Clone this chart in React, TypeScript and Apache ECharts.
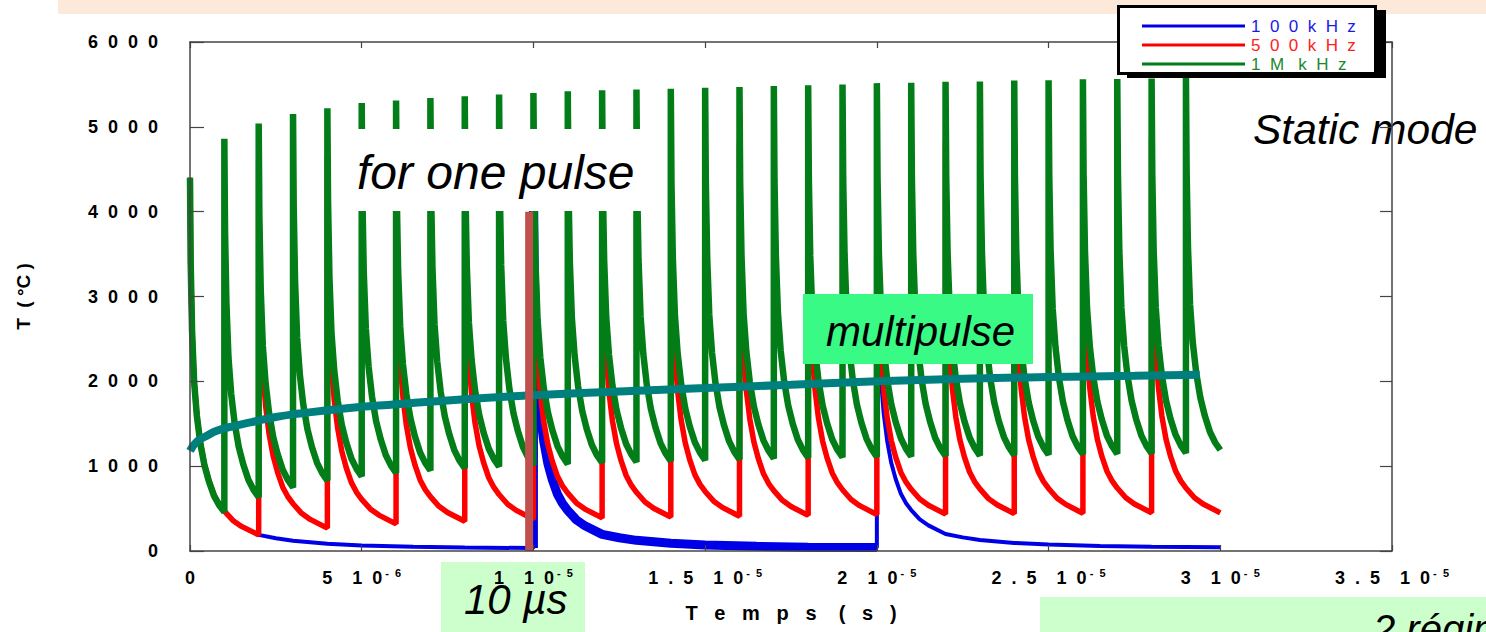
import { useEffect, useRef } from "react";
import * as echarts from "echarts";

const FONT = "'Liberation Sans', Arial, Helvetica, sans-serif";

// ---- axis tick labels ----
const X_TICK_MANTISSA = ["0", "5", "1", "1.5", "2", "2.5", "3", "3.5"];
const X_TICK_EXPONENT = ["", "-6", "-5", "-5", "-5", "-5", "-5", "-5"];
const Y_TICK_LABELS = ["0", "1000", "2000", "3000", "4000", "5000", "6000"];

// ---- series names / legend ----
const SERIES_NAMES = ["100 kHz", "500 kHz", "1M kHz"];
const LEGEND_LABELS = ["1  0  0  k  H  z", "5  0  0  k  H  z", "1  M   k  H  z"];
const SERIES_COLORS = ["#0000e6", "#ff0000", "#037d17"];
const LEGEND_TEXT_COLORS = ["#1a1ae6", "#ff2020", "#1a8a2a"];

// ---- single-pulse decay read from the first pulse (time after pulse in µs, T rise in °C) ----
const DECAY_TAU = [0, 0.02, 0.06, 0.12, 0.2, 0.3, 0.42, 0.55, 0.7, 0.85, 1.0, 1.25, 1.5, 2.0, 2.5, 3.0, 4.0, 5.0, 6.5, 8.0, 10.0];
const DECAY_DT = [4400, 3400, 2600, 2000, 1600, 1280, 1020, 830, 660, 550, 470, 360, 290, 190, 150, 120, 85, 65, 50, 40, 35];

// ---- 1 MHz (green): pulse times (µs), peak T and T just before next pulse ----
const GREEN_TIMES = [0, 1, 2, 3, 4, 5, 6, 7, 8, 9, 10, 11, 12, 13, 14, 15, 16, 17, 18, 19, 20, 21, 22, 23, 24, 25, 26, 27, 28, 29];
const GREEN_PEAKS = [4400, 4860, 5040, 5150, 5220, 5280, 5310, 5340, 5360, 5380, 5400, 5420, 5430, 5440, 5450, 5460, 5470, 5480, 5490, 5500, 5515, 5520, 5530, 5535, 5545, 5550, 5560, 5565, 5570, 5590];
const GREEN_TROUGHS = [460, 635, 750, 830, 880, 920, 950, 975, 995, 1010, 1025, 1040, 1050, 1060, 1070, 1080, 1090, 1100, 1105, 1110, 1115, 1120, 1125, 1130, 1135, 1140, 1145, 1150, 1155, 1190];

// ---- 500 kHz (red) ----
const RED_TIMES = [0, 2, 4, 6, 8, 10, 12, 14, 16, 18, 20, 22, 24, 26, 28];
const RED_PEAKS = [4400, 4590, 4670, 4720, 4750, 4775, 4790, 4800, 4810, 4820, 4830, 4835, 4840, 4845, 4850];
const RED_TROUGHS = [190, 270, 320, 350, 375, 390, 400, 410, 420, 430, 435, 440, 445, 450, 450];

// ---- 100 kHz (blue) ----
const BLUE_TIMES = [0, 10, 20];
const BLUE_PEAKS = [4400, 4435, 4440];
const BLUE_TROUGHS = [35, 40, 45];

// ---- static mode curve (teal) ----
const STATIC_T = [0, 0.2, 0.45, 0.8, 1.3, 1.8, 2.5, 3.2, 4.5, 6, 8, 10, 12.5, 15, 17.5, 20, 22.5, 25, 27.5, 29.4];
const STATIC_V = [1180, 1290, 1350, 1420, 1475, 1520, 1580, 1620, 1680, 1730, 1790, 1835, 1880, 1920, 1960, 2000, 2030, 2050, 2065, 2078];

// ---- "for one pulse" marker bar ----
const MARK_T = 9.875;
const MARK_RANGE = [0, 4000];

function pulse(t: number, peak: number, before: number | null, after: number, period: number) {
  const pts: number[][] = [];
  if (before !== null) pts.push([t, before]);
  pts.push([t, peak]);
  const iEnd = DECAY_TAU.indexOf(period);
  const dEnd = DECAY_DT[iEnd];
  for (let i = 1; i < DECAY_TAU.length; i++) {
    const tau = DECAY_TAU[i];
    if (tau >= period) break;
    const v = after + ((peak - after) * (DECAY_DT[i] - dEnd)) / (DECAY_DT[0] - dEnd);
    pts.push([t + tau, v]);
  }
  pts.push([t + period, after]);
  return pts;
}

function train(times: number[], peaks: number[], troughs: number[], period: number, only?: number[]) {
  let pts: number[][] = [];
  times.forEach((t, k) => {
    if (only && only.indexOf(k) < 0) return;
    pts = pts.concat(pulse(t, peaks[k], k > 0 ? troughs[k - 1] : null, troughs[k], period));
  });
  return pts;
}

const spread = (s: string, gap: string) => s.split("").join(gap);

export default function App() {
  const ref = useRef<HTMLDivElement>(null);
  useEffect(() => {
    if (!ref.current) return;
    const chart = echarts.init(ref.current, undefined, { renderer: "svg" });

    const blueAll = train(BLUE_TIMES, BLUE_PEAKS, BLUE_TROUGHS, 10);
    const blueMid = train(BLUE_TIMES, BLUE_PEAKS, BLUE_TROUGHS, 10, [1]);
    const red = train(RED_TIMES, RED_PEAKS, RED_TROUGHS, 2);
    const green = train(GREEN_TIMES, GREEN_PEAKS, GREEN_TROUGHS, 1);
    const teal = STATIC_T.map((t, i) => [t, STATIC_V[i]]);
    const bar = MARK_RANGE.map((v) => [MARK_T, v]);

    const lineBase = {
      type: "line",
      showSymbol: false,
      symbol: "none",
      silent: true,
      animation: false,
      clip: true,
    };

    const axisLineStyle = { color: "#444", width: 1.5 };

    const option: any = {
      animation: false,
      backgroundColor: "#ffffff",
      grid: { left: 190, right: 94, top: 42, bottom: 81 },
      xAxis: [
        {
          type: "value",
          min: 0,
          max: 35,
          interval: 5,
          position: "bottom",
          z: 10,
          axisLine: { show: true, onZero: false, lineStyle: axisLineStyle },
          axisTick: { show: true, inside: true, length: 6, lineStyle: { color: "#444", width: 1.2 } },
          splitLine: { show: false },
          axisLabel: {
            margin: 16,
            formatter: (v: number) => {
              const i = Math.round(v / 5);
              if (i === 0) return "{m|0}";
              return `{m|${spread(X_TICK_MANTISSA[i], "  ")}    1  0}{e| ${spread(X_TICK_EXPONENT[i], "  ")}}`;
            },
            rich: {
              m: { fontFamily: FONT, fontWeight: "bold", fontSize: 18, color: "#000", lineHeight: 21 },
              e: { fontFamily: FONT, fontWeight: "bold", fontSize: 11, color: "#000", lineHeight: 21, verticalAlign: "top" },
            },
          },
          name: "T   e   m   p   s    (   s   )",
          nameLocation: "middle",
          nameGap: 52,
          nameTextStyle: { fontFamily: FONT, fontWeight: "bold", fontSize: 20, color: "#000" },
        },
        {
          type: "value",
          min: 0,
          max: 35,
          interval: 5,
          position: "top",
          z: 10,
          axisLine: { show: true, onZero: false, lineStyle: axisLineStyle },
          axisTick: { show: true, inside: true, length: 6, lineStyle: { color: "#444", width: 1.2 } },
          axisLabel: { show: false },
          splitLine: { show: false },
        },
      ],
      yAxis: [
        {
          type: "value",
          min: 0,
          max: 6000,
          interval: 1000,
          position: "left",
          z: 10,
          axisLine: { show: true, onZero: false, lineStyle: axisLineStyle },
          axisTick: { show: true, inside: true, length: 14, lineStyle: { color: "#444", width: 1.2 } },
          splitLine: { show: false },
          axisLabel: {
            margin: 32,
            formatter: (v: number) => spread(Y_TICK_LABELS[Math.round(v / 1000)], "  "),
            fontFamily: FONT,
            fontWeight: "bold",
            fontSize: 18,
            color: "#000",
          },
          name: "T  ( °C )",
          nameLocation: "middle",
          nameRotate: 90,
          nameGap: 157,
          nameTextStyle: { fontFamily: FONT, fontWeight: "bold", fontSize: 19, color: "#000" },
        },
        {
          type: "value",
          min: 0,
          max: 6000,
          interval: 1000,
          position: "right",
          z: 10,
          axisLine: { show: true, onZero: false, lineStyle: axisLineStyle },
          axisTick: { show: true, inside: true, length: 12, lineStyle: { color: "#444", width: 1.2 } },
          axisLabel: { show: false },
          splitLine: { show: false },
        },
      ],
      legend: {
        data: SERIES_NAMES.map((n, i) => ({ name: n, textStyle: { color: LEGEND_TEXT_COLORS[i] } })),
        orient: "vertical",
        left: 1137,
        top: 12,
        itemWidth: 103,
        itemHeight: 3,
        itemGap: 1,
        icon: "rect",
        selectedMode: false,
        z: 120,
        formatter: (name: string) => LEGEND_LABELS[SERIES_NAMES.indexOf(name)],
        textStyle: { fontFamily: FONT, fontSize: 17, lineHeight: 18, padding: [0, 0, 0, 1] },
      },
      series: [
        { ...lineBase, name: SERIES_NAMES[0], data: blueAll, color: SERIES_COLORS[0], lineStyle: { color: SERIES_COLORS[0], width: 4 } },
        { ...lineBase, name: SERIES_NAMES[0], data: blueMid, color: SERIES_COLORS[0], lineStyle: { color: SERIES_COLORS[0], width: 9 } },
        { ...lineBase, name: SERIES_NAMES[1], data: red, color: SERIES_COLORS[1], lineStyle: { color: SERIES_COLORS[1], width: 5.5 } },
        { ...lineBase, name: SERIES_NAMES[2], data: green, color: SERIES_COLORS[2], lineStyle: { color: SERIES_COLORS[2], width: 6.5 } },
        { ...lineBase, name: "static mode", data: teal, smooth: true, color: "#007f7f", lineStyle: { color: "#007f7f", width: 8 } },
        { ...lineBase, name: "one pulse", data: bar, color: "#c0504d", lineStyle: { color: "#c0504d", width: 8, cap: "butt" } },
      ],
      graphic: [
        { type: "rect", z: 1, shape: { x: 58, y: 0, width: 1428, height: 14 }, style: { fill: "#fde9d9" } },
        { type: "rect", z: 100, shape: { x: 1127, y: 10, width: 259, height: 68 }, style: { fill: "#000" } },
        { type: "rect", z: 101, shape: { x: 1118.5, y: 6.5, width: 257, height: 67 }, style: { fill: "#fff", stroke: "#000", lineWidth: 3 } },
        { type: "rect", z: 100, shape: { x: 348, y: 129, width: 302, height: 82 }, style: { fill: "#fff" } },
        { type: "text", z: 101, x: 357, y: 172, style: { text: "for one pulse", fontFamily: FONT, fontStyle: "italic", fontSize: 48, fill: "#000", verticalAlign: "middle" } },
        { type: "rect", z: 100, shape: { x: 803, y: 294, width: 230, height: 70 }, style: { fill: "#38fa84" } },
        { type: "text", z: 101, x: 826, y: 331, style: { text: "multipulse", fontFamily: FONT, fontStyle: "italic", fontSize: 42, fill: "#000", verticalAlign: "middle" } },
        { type: "text", z: 1, x: 1253, y: 129, style: { text: "Static mode", fontFamily: FONT, fontStyle: "italic", fontSize: 42.5, fill: "#000", verticalAlign: "middle" } },
        { type: "rect", z: 5, shape: { x: 441, y: 562, width: 144, height: 70 }, style: { fill: "#ccffcc" } },
        { type: "text", z: 101, x: 464, y: 599, style: { text: "10 µs", fontFamily: FONT, fontStyle: "italic", fontSize: 42, fill: "#000", verticalAlign: "middle" } },
        { type: "rect", z: 5, shape: { x: 1040, y: 597, width: 446, height: 35 }, style: { fill: "#ccffcc" } },
        { type: "text", z: 101, x: 1373, y: 609, style: { text: "2 régimes", fontFamily: FONT, fontStyle: "italic", fontSize: 40, fill: "#000", verticalAlign: "top" } },
      ],
    };

    chart.setOption(option);
    return () => chart.dispose();
  }, []);

  return <div ref={ref} style={{ width: 1486, height: 632, position: "absolute", left: 0, top: 0 }} />;
}
